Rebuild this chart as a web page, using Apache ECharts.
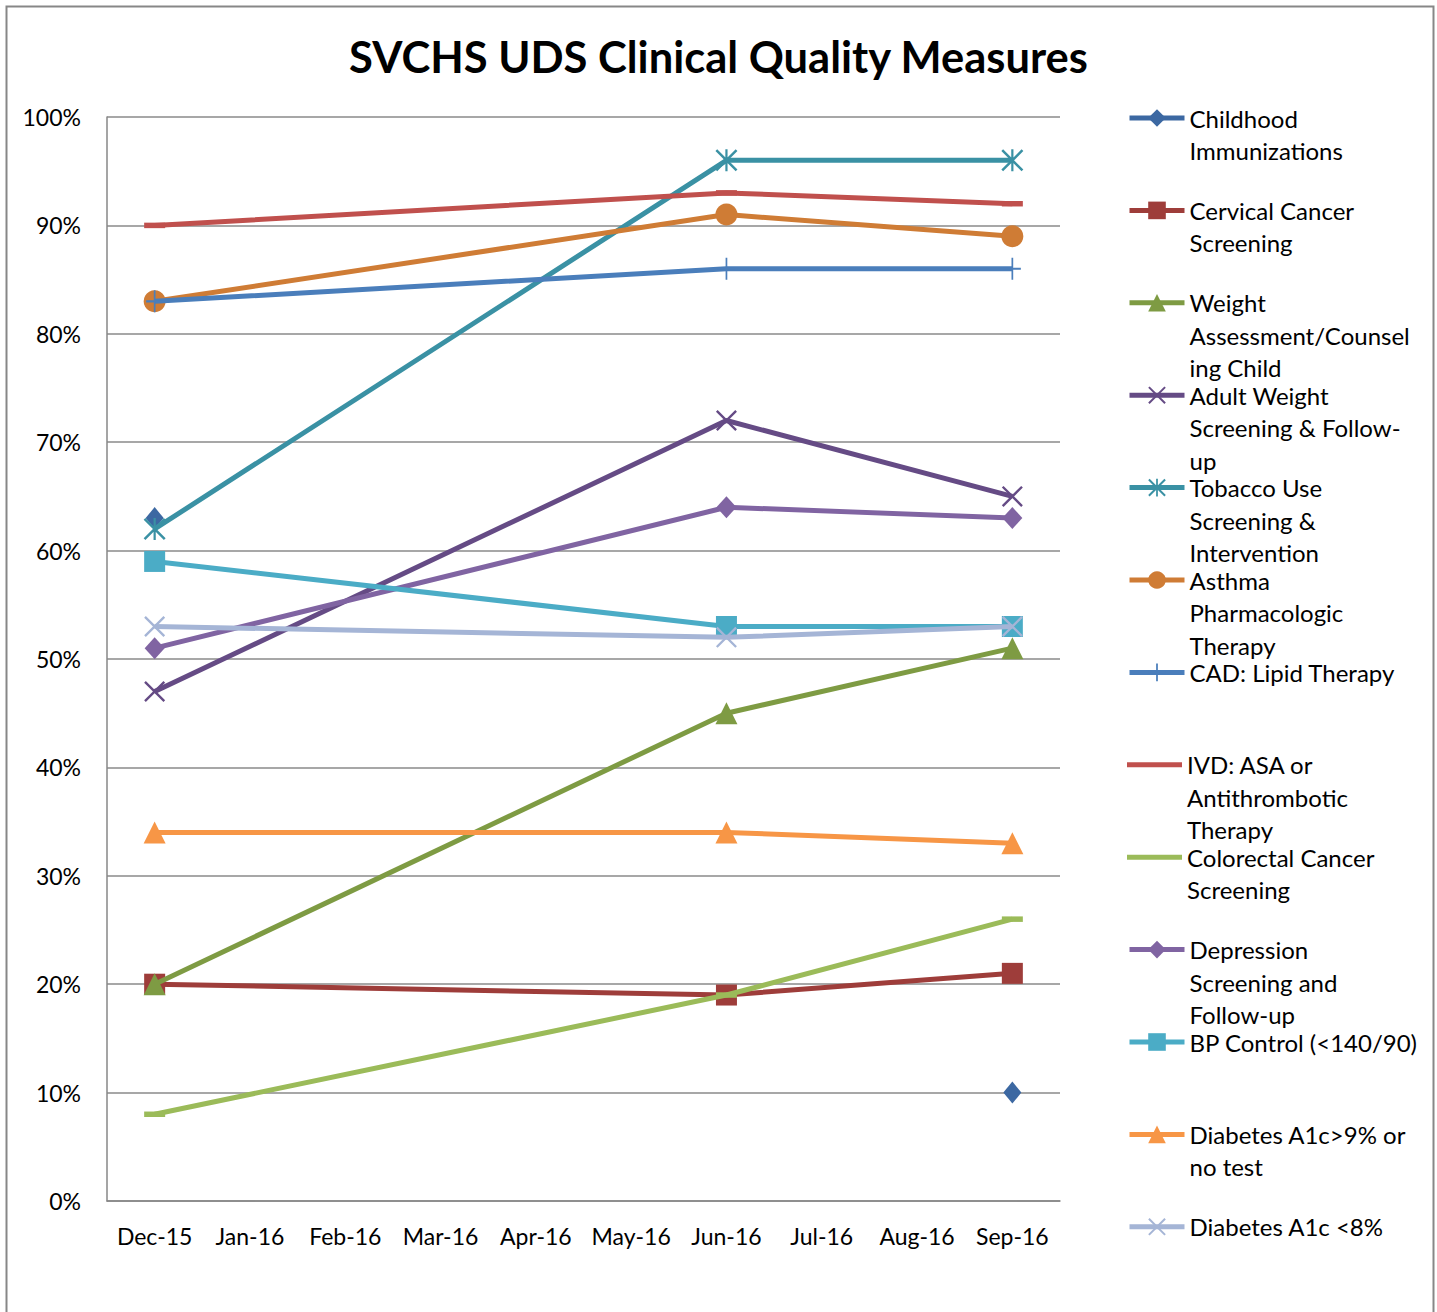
<!DOCTYPE html>
<html>
<head>
<meta charset="utf-8">
<script src="https://cdn.jsdelivr.net/npm/echarts@6/dist/echarts.min.js"></script>
<style>
html,body{margin:0;padding:0;background:#fff;}
#chart{width:1437px;height:1312px;}
</style>
</head>
<body>
<div id="chart"></div>
<script>
const categories = ['Dec-15','Jan-16','Feb-16','Mar-16','Apr-16','May-16','Jun-16','Jul-16','Aug-16','Sep-16'];
const yTicks = [0,10,20,30,40,50,60,70,80,90,100];

const seriesNames = [
  'Childhood Immunizations',
  'Cervical Cancer Screening',
  'Weight Assessment/Counseling Child',
  'Adult Weight Screening & Follow-up',
  'Tobacco Use Screening & Intervention',
  'Asthma Pharmacologic Therapy',
  'CAD: Lipid Therapy',
  'IVD: ASA or Antithrombotic Therapy',
  'Colorectal Cancer Screening',
  'Depression Screening and Follow-up',
  'BP Control (<140/90)',
  'Diabetes A1c>9% or no test',
  'Diabetes A1c <8%'
];
const legendLabels = [
  'Childhood\nImmunizations',
  'Cervical Cancer\nScreening',
  'Weight\nAssessment/Counsel\ning Child',
  'Adult Weight\nScreening & Follow-\nup',
  'Tobacco Use\nScreening &\nIntervention',
  'Asthma\nPharmacologic\nTherapy',
  'CAD: Lipid Therapy',
  'IVD: ASA or\nAntithrombotic\nTherapy',
  'Colorectal Cancer\nScreening',
  'Depression\nScreening and\nFollow-up',
  'BP Control (<140/90)',
  'Diabetes A1c>9% or\nno test',
  'Diabetes A1c <8%'
];

// values in percent, null = no data for that month
const childhoodImm   = [63, null, null, null, null, null, null, null, null, 10];
const cervical       = [20, null, null, null, null, null, 19, null, null, 21];
const weightChild    = [20, null, null, null, null, null, 45, null, null, 51];
const adultWeight    = [47, null, null, null, null, null, 72, null, null, 65];
const tobacco        = [62, null, null, null, null, null, 96, null, null, 96];
const asthma         = [83, null, null, null, null, null, 91, null, null, 89];
const cadLipid       = [83, null, null, null, null, null, 86, null, null, 86];
const ivdAsa         = [90, null, null, null, null, null, 93, null, null, 92];
const colorectal     = [8,  null, null, null, null, null, 19, null, null, 26];
const depression     = [51, null, null, null, null, null, 64, null, null, 63];
const bpControl      = [59, null, null, null, null, null, 53, null, null, 53];
const a1cOver9       = [34, null, null, null, null, null, 34, null, null, 33];
const a1cUnder8      = [53, null, null, null, null, null, 52, null, null, 53];

const seriesData = [childhoodImm, cervical, weightChild, adultWeight, tobacco, asthma, cadLipid,
                    ivdAsa, colorectal, depression, bpControl, a1cOver9, a1cUnder8];

const colors = ['#3C68A2','#9E3D3A','#7E9B43','#654B85','#3A91A4','#CF7C35','#4A7EBB',
                '#C0504D','#9BBB59','#8064A2','#4BACC6','#F79646','#A5B5D6'];

const X_PATH = 'path://M0,1.6L1.6,0L20,18.4L18.4,20Z M18.4,0L20,1.6L1.6,20L0,18.4Z';
const PLUS_PATH = 'path://M9,0H11V20H9Z M0,9H20V11H0Z';
const STAR_PATH = 'path://M0,1.6L1.6,0L20,18.4L18.4,20Z M18.4,0L20,1.6L1.6,20L0,18.4Z M9,0H11V20H9Z';
const DASH_ICON = 'path://M0,0H55V5H0Z';

const symbols = ['diamond','rect','triangle',X_PATH,STAR_PATH,'circle',PLUS_PATH,'rect','rect','diamond','rect','triangle',X_PATH];
const symbolSizes = [[18,22],21,[22,22],21,22,[22,22],[17,22],[21,5.5],[21,5.5],[20,22],21,[22,22],21];

const FONT = 'Lato, "Open Sans", sans-serif';
const LH = 32.5;
const legendTop0 = 118, legendStep = 92.4;

const series = seriesNames.map((name, i) => ({
  name: name,
  type: 'line',
  data: seriesData[i],
  connectNulls: i !== 0,
  symbol: symbols[i],
  symbolSize: symbolSizes[i],
  showSymbol: true,
  showAllSymbol: true,
  lineStyle: { color: colors[i], width: 5 },
  itemStyle: { color: colors[i], borderWidth: 0 },
  emphasis: { disabled: true },
  z: 2 + i
}));

const legends = seriesNames.map((name, i) => {
  const n = legendLabels[i].split('\n').length;
  const item = { name: name };
  if (i === 7 || i === 8) item.icon = DASH_ICON;
  return {
    show: true,
    orient: 'vertical',
    left: 1127,
    top: legendTop0 + i * legendStep - (2 * n - 1) * LH / 2,
    padding: 0,
    itemWidth: 55,
    itemHeight: 22,
    itemGap: 0,
    selectedMode: false,
    lineStyle: { width: 5 },
    data: [item],
    formatter: () => '\n'.repeat(n - 1) + legendLabels[i],
    textStyle: { fontFamily: FONT, fontSize: 24, color: '#000', lineHeight: LH }
  };
});

const chart = echarts.init(document.getElementById('chart'), null, { renderer: 'svg' });
chart.setOption({
  animation: false,
  backgroundColor: '#fff',
  title: {
    text: 'SVCHS UDS Clinical Quality Measures',
    left: 'center',
    top: 29,
    textStyle: { fontFamily: FONT, fontSize: 43.5, fontWeight: 'bold', color: '#000' }
  },
  graphic: [{
    type: 'rect', left: 4, top: 4, silent: true,
    shape: { width: 1427, height: 1330 },
    style: { fill: 'none', stroke: '#878787', lineWidth: 2 }
  }],
  grid: { left: 107, right: 377, top: 117, bottom: 111 },
  legend: legends,
  xAxis: {
    type: 'category',
    data: categories,
    boundaryGap: true,
    axisLine: { show: true, lineStyle: { color: '#878787', width: 1.5 } },
    axisTick: { show: false },
    axisLabel: { fontFamily: FONT, fontSize: 23, color: '#000', margin: 23, interval: 0 }
  },
  yAxis: {
    type: 'value',
    min: yTicks[0],
    max: yTicks[yTicks.length - 1],
    interval: 10,
    axisLine: { show: true, lineStyle: { color: '#878787', width: 1.5 } },
    axisTick: { show: false },
    axisLabel: { fontFamily: FONT, fontSize: 23, color: '#000', margin: 26, formatter: '{value}%' },
    splitLine: { show: true, lineStyle: { color: '#8A8A8A', width: 1.5 } }
  },
  series: series
});
</script>
</body>
</html>
